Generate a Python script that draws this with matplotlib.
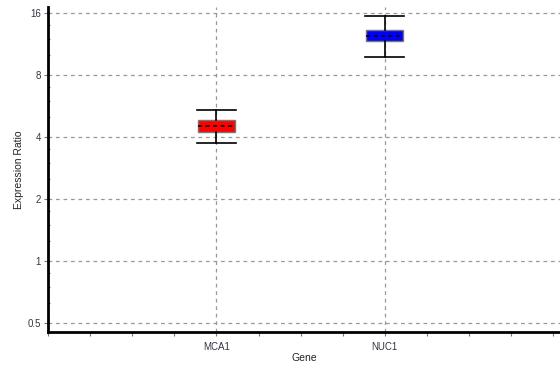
import matplotlib
matplotlib.use("Agg")
import matplotlib.pyplot as plt
import matplotlib.ticker as mticker

plt.rcParams['font.family'] = ['Liberation Sans', 'DejaVu Sans']

# Expression ratio summary per gene
genes = ['MCA1', 'NUC1']
whisker_low = [3.77, 9.8]
box_low = [4.23, 11.7]
medians = [4.55, 12.45]
box_high = [4.84, 13.3]
whisker_high = [5.45, 15.6]
box_colors = ['#ff0000', '#0000ff']

y_ticks = [0.5, 1, 2, 4, 8, 16]
y_minor = [0.625, 0.75, 0.875, 1.25, 1.5, 1.75, 2.5, 3, 3.5,
           5, 6, 7, 10, 12, 14]

stats = []
for i, g in enumerate(genes):
    stats.append({
        'label': g,
        'whislo': whisker_low[i],
        'q1': box_low[i],
        'med': medians[i],
        'q3': box_high[i],
        'whishi': whisker_high[i],
        'fliers': [],
    })

fig = plt.figure(figsize=(5.6, 3.7), dpi=100)
ax = fig.add_axes([0.0857, 0.1027, 0.9143, 0.8785])

ax.set_yscale('log', base=2)
ax.set_ylim(0.453, 17.2)
ax.set_xlim(0, 3.04)

positions = list(range(1, len(genes) + 1))
bp = ax.bxp(stats, positions=positions, widths=0.22, patch_artist=True,
            showfliers=False, zorder=3,
            boxprops=dict(edgecolor='#777777', linewidth=1.0),
            medianprops=dict(color='black', linestyle=(0, (2.5, 2)), linewidth=1.2),
            whiskerprops=dict(color='black', linewidth=1.2),
            capprops=dict(color='black', linewidth=1.2))
for patch, c in zip(bp['boxes'], box_colors):
    patch.set_facecolor(c)
for cap in bp['caps']:
    x = cap.get_xdata()
    mid = (x[0] + x[1]) / 2
    cap.set_xdata([mid - 0.115, mid + 0.115])

ax.set_yticks(y_ticks)
ax.set_yticklabels(['0.5', '1', '2', '4', '8', '16'])
ax.yaxis.set_minor_locator(mticker.FixedLocator(y_minor))
ax.yaxis.set_minor_formatter(mticker.NullFormatter())

ax.set_xticks(positions)
ax.set_xticklabels(genes)
ax.xaxis.set_minor_locator(mticker.MultipleLocator(0.25))

ax.grid(True, which='major', color='#999999', linestyle=(0, (3, 3)), linewidth=0.9)
ax.set_axisbelow(True)

for side in ['top', 'right']:
    ax.spines[side].set_visible(False)
for side in ['left', 'bottom']:
    ax.spines[side].set_linewidth(2)
    ax.spines[side].set_color('black')

ax.tick_params(axis='y', which='major', length=3, width=0.8, color='#777777',
               labelsize=7, labelcolor='#333344', pad=2)
ax.tick_params(axis='y', which='minor', length=1.5, width=0.8, direction='in', color='#777777')
ax.tick_params(axis='x', which='major', length=3, width=0.8, color='#777777',
               labelsize=7, labelcolor='#333344', pad=4)
ax.tick_params(axis='x', which='minor', length=3, width=0.8, color='#777777')

ax.set_ylabel('Expression Ratio', fontsize=7.5, color='#222222', labelpad=3)
ax.set_xlabel('Gene', fontsize=7.5, color='#222222', labelpad=1)

fig.savefig('out.png', dpi=100)
